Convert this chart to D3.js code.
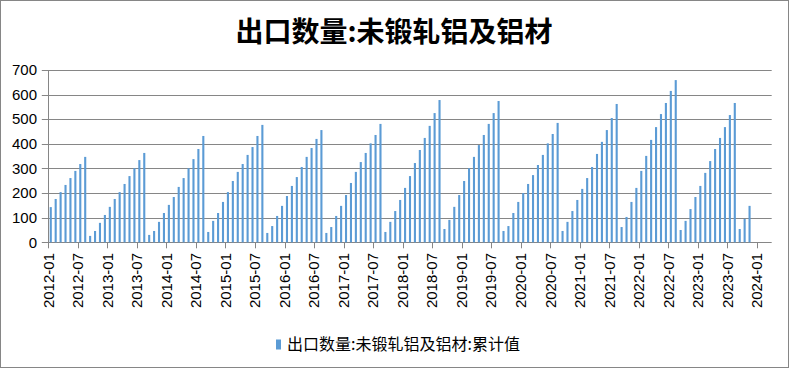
<!DOCTYPE html>
<html><head><meta charset="utf-8">
<script src="https://cdn.jsdelivr.net/npm/d3@7"></script>
<style>body{margin:0;background:#fff}svg{display:block}</style>
</head><body><svg id="c" width="789" height="368"></svg>
<script>
const chartTitle = "出口数量:未锻轧铝及铝材";
const seriesName = "出口数量:未锻轧铝及铝材:累计值";

// cumulative values, in order of the bars (each block = one cumulative cycle)
const seg01 = [143, 176, 204, 233, 261, 290, 318, 347];
const seg02 = [26, 46, 79, 111, 144, 176, 204, 237, 269, 301, 334, 363];
const seg03 = [30, 46, 83, 119, 152, 184, 225, 261, 301, 338, 379, 432];
const seg04 = [42, 87, 119, 164, 204, 249, 286, 318, 355, 387, 432, 477];
const seg05 = [38, 66, 107, 148, 188, 229, 265, 306, 347, 383, 420, 456];
const seg06 = [38, 62, 107, 148, 192, 241, 286, 326, 363, 402, 436, 481];
const seg07 = [42, 83, 127, 172, 221, 269, 322, 375, 424, 473, 525, 578];
const seg08 = [54, 91, 144, 192, 249, 301, 347, 395, 436, 481, 525, 574];
const seg09 = [46, 66, 119, 164, 200, 237, 273, 314, 355, 402, 440, 485];
const seg10 = [46, 83, 127, 172, 217, 261, 306, 359, 408, 456, 505, 562];
const seg11 = [62, 103, 164, 221, 290, 351, 416, 468, 521, 566, 615, 659];
const seg12 = [50, 87, 135, 184, 229, 282, 330, 379, 424, 468, 517, 566];
const seg13 = [54, 95, 148];
const values = [].concat(seg01, seg02, seg03, seg04, seg05, seg06, seg07,
  seg08, seg09, seg10, seg11, seg12, seg13);

const tickLabels = ["2012-01","2012-07","2013-01","2013-07","2014-01","2014-07",
  "2015-01","2015-07","2016-01","2016-07","2017-01","2017-07","2018-01","2018-07",
  "2019-01","2019-07","2020-01","2020-07","2021-01","2021-07","2022-01","2022-07",
  "2023-01","2023-07","2024-01"];
const yTicks = [0, 100, 200, 300, 400, 500, 600, 700];

// axis categories: months 2012-01 .. 2024-03
const categories = [];
for (let yr = 2012; yr <= 2024; yr++) {
  for (let mo = 1; mo <= 12; mo++) {
    if (yr === 2024 && mo > 3) break;
    categories.push(yr + "-" + String(mo).padStart(2, "0"));
  }
}
const data = values.map((v, i) => ({cat: categories[i], v}));

const svg = d3.select("#c");
const L = 48.3, R = 771.7, T = 70, B = 242.3;
const x = d3.scaleBand().domain(categories).range([L, R]).padding(0);
const y = d3.scaleLinear().domain([0, 700]).range([B, T]);
const gridColor = "#868686";
const blue = "#5b9bd5";
const latin = "'Liberation Sans', Arial, sans-serif";
const cjk = "'Noto Sans CJK SC', 'Noto Sans', sans-serif";

svg.append("rect").attr("x", 0.5).attr("y", 0.5).attr("width", 788).attr("height", 367)
  .attr("fill", "#fff").attr("stroke", gridColor);

svg.append("text").attr("x", 394).attr("y", 42).attr("text-anchor", "middle")
  .attr("font-family", cjk).attr("font-weight", "bold").attr("font-size", 28)
  .attr("fill", "#000").text(chartTitle);

// gridlines
svg.append("g").selectAll("line").data(yTicks).join("line")
  .attr("x1", L - 6.5).attr("x2", R)
  .attr("y1", d => Math.round(y(d)) + 0.5).attr("y2", d => Math.round(y(d)) + 0.5)
  .attr("stroke", gridColor).attr("stroke-width", 1);

// y labels
svg.append("g").selectAll("text").data(yTicks).join("text")
  .attr("x", 37).attr("y", d => y(d)).attr("dy", "0.35em").attr("text-anchor", "end")
  .attr("font-family", latin).attr("font-size", 15).attr("fill", "#000").text(d => d);

// y axis line
svg.append("line").attr("x1", Math.round(L) + 0.5).attr("x2", Math.round(L) + 0.5)
  .attr("y1", T).attr("y2", B).attr("stroke", gridColor);

// bars
const bw = 2.1;
svg.append("g").selectAll("rect").data(data).join("rect")
  .attr("x", d => x(d.cat) + x.bandwidth() / 2 - bw / 2)
  .attr("width", bw)
  .attr("y", d => y(d.v))
  .attr("height", d => y(0) - y(d.v))
  .attr("fill", blue);

// x axis ticks and labels
const gx = svg.append("g");
gx.selectAll("line").data(tickLabels).join("line")
  .attr("x1", d => Math.round(x(d)) + 0.5).attr("x2", d => Math.round(x(d)) + 0.5)
  .attr("y1", B).attr("y2", B + 6).attr("stroke", gridColor);
gx.selectAll("text").data(tickLabels).join("text")
  .attr("transform", d => `translate(${x(d)},253) rotate(-90)`)
  .attr("text-anchor", "end").attr("dy", "0.35em")
  .attr("font-family", latin).attr("font-size", 15).attr("fill", "#000").text(d => d);

// legend
svg.append("rect").attr("x", 276).attr("y", 339.5).attr("width", 5).attr("height", 10).attr("fill", blue);
svg.append("text").attr("x", 287).attr("y", 350).attr("font-family", cjk)
  .attr("font-size", 16).attr("fill", "#000").text(seriesName);
</script></body></html>
